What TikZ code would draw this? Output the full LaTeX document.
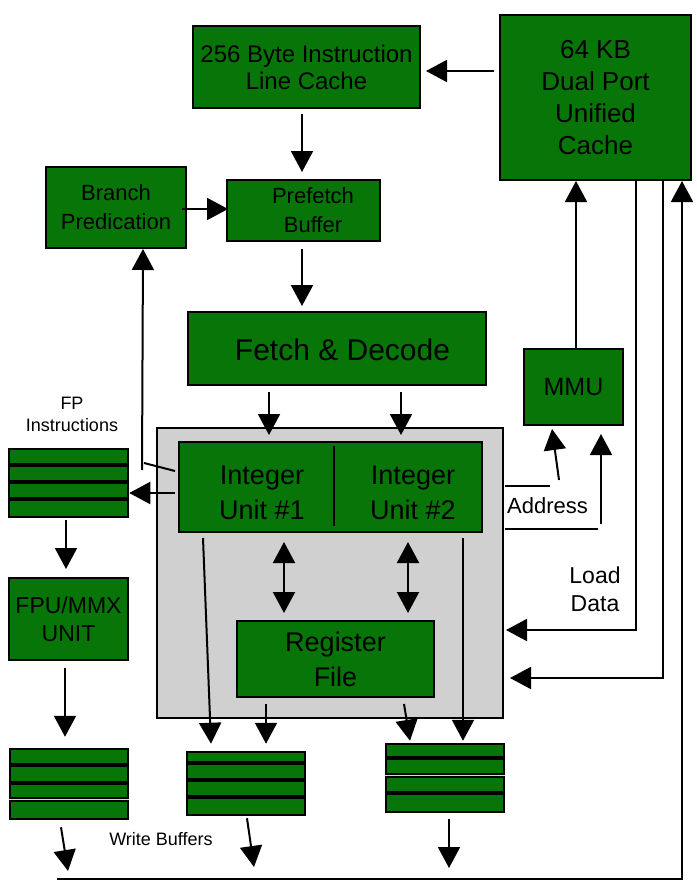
\documentclass[tikz,border=0pt]{standalone}
\usepackage{fontspec}
\setmainfont{Liberation Sans}
\usetikzlibrary{arrows.meta,calc}
\definecolor{boxgreen}{RGB}{7,117,7}
\definecolor{panelgray}{RGB}{208,208,208}
\newcommand\bufsep[2]{\draw[line width=3.5pt] ($(#1.north west)+(0,#2)$) -- ($(#1.north east)+(0,#2)$);}
\newcommand\bufgap[2]{\draw[line width=5pt] ($(#1.north west)+(0,#2)$) -- ($(#1.north east)+(0,#2)$);
  \draw[line width=0.9pt,black!15] ($(#1.north west)+(0,#2)$) -- ($(#1.north east)+(0,#2)$);}
\begin{document}
\begin{tikzpicture}[x=1pt,y=-1pt,
  box/.style={draw=black, line width=2pt, fill=boxgreen, inner sep=0pt, align=center},
  bufbox/.style={draw=black, line width=2.5pt, fill=boxgreen, inner sep=0pt},
  arr/.style={line width=2pt, -{Triangle[length=21pt,width=22pt]}},
  darr/.style={line width=2pt, {Triangle[length=21pt,width=22pt]}-{Triangle[length=21pt,width=22pt]}},
  plain/.style={line width=2pt},
  lbl/.style={inner sep=0pt, align=center},
  fA/.style={font=\fontsize{24pt}{27pt}\selectfont},
  fB/.style={font=\fontsize{26pt}{31.7pt}\selectfont},
  fC/.style={font=\fontsize{22pt}{29pt}\selectfont},
  fD/.style={font=\fontsize{30pt}{34pt}\selectfont},
  fE/.style={font=\fontsize{27pt}{35pt}\selectfont},
  fF/.style={font=\fontsize{23pt}{28pt}\selectfont},
  fG/.style={font=\fontsize{18pt}{22pt}\selectfont},
]
\useasboundingbox (0,0) rectangle (696,888);

% boxes
\node[box, fA, minimum width=227pt, minimum height=82pt] (c256) at (306.5,67) {256 Byte Instruction\\Line Cache};
\node[box, fB, minimum width=191pt, minimum height=165pt] (ucache) at (595.5,97.5) {64 KB\\Dual Port\\Unified\\Cache};
\node[box, minimum width=153pt, minimum height=61pt] (pref) at (303.5,210.5) {};
\node[lbl, fC] (preft) at (313,210) {Prefetch\\Buffer};
\node[box, fC, minimum width=140pt, minimum height=81pt] (branch) at (116,207.5) {Branch\\Predication};
\node[box, minimum width=298pt, minimum height=73pt] (fetch) at (337,348.5) {};
\node[lbl, fD] (fetcht) at (342.5,350) {Fetch \& Decode};
\node[box, font=\fontsize{25pt}{30pt}\selectfont, minimum width=99pt, minimum height=76pt] (mmu) at (573.5,387) {MMU};
\node[draw, line width=2pt, fill=panelgray, minimum width=346pt, minimum height=290pt, inner sep=0pt] (gray) at (330,573) {};
\node[box, minimum width=303pt, minimum height=90pt] (intu) at (330.5,487) {};
\node[lbl, fE] (iu1) at (262,493) {Integer\\Unit \#1};
\node[lbl, fE] (iu2) at (413,493) {Integer\\Unit \#2};
\draw[plain] ($(intu.north)+(3.5,5)$) -- ($(intu.south)+(3.5,-7)$);
\node[box, fE, minimum width=197pt, minimum height=76pt] (regf) at (335.5,659) {Register\\File};
\node[bufbox, minimum width=119pt, minimum height=68pt] (fpbuf) at (68.5,483) {};
\node[box, fF, minimum width=119pt, minimum height=82pt] (fpu) at (68.5,619) {FPU/MMX\\UNIT};
\node[bufbox, minimum width=118pt, minimum height=70pt] (wb1) at (69,784) {};
\node[bufbox, minimum width=118pt, minimum height=63pt] (wb2) at (246,783.5) {};
\node[bufbox, minimum width=118pt, minimum height=68pt] (wb3) at (445,778) {};

% buffer stripes
\bufsep{fpbuf}{17}\bufsep{fpbuf}{34}\bufsep{fpbuf}{51}
\bufsep{wb1}{17}\bufsep{wb1}{35}\bufgap{wb1}{52}
\bufsep{wb2}{12}\bufsep{wb2}{29}\bufsep{wb2}{46}
\bufsep{wb3}{15}\bufgap{wb3}{33}\bufsep{wb3}{50}

% labels
\node[lbl, fG] (fplabel) at (72,414.5) {FP\\Instructions};
\node[lbl, fC, anchor=base west] (addr) at (507,513) {Address};
\node[lbl, fF] (ldlabel) at (595,589) {Load\\Data};
\node[lbl, fG, anchor=base] (wblabel) at (161,845) {Write Buffers};

% bus
\coordinate (busL) at (57,879);
\coordinate (busR) at (682,879);

% connectors
\draw[arr] ($(ucache.west)+(-5,-26.5)$) -- ($(c256.east)+(5,4)$);
\draw[arr] ($(c256.south)+(-4.5,5)$) -- ($(pref.north)+(-1.5,-7)$);
\draw[arr] ($(branch.east)+(-5,1.5)$) -- ($(pref.west)+(2,-1.5)$);
\draw[arr] ($(pref.south)+(-1.5,7)$) -- ($(fetch.north)+(-35,-5)$);
\draw[arr] ($(fetch.south)+(-68,6)$) -- ($(intu.north)+(-61.5,-6)$);
\draw[arr] ($(fetch.south)+(64,6)$) -- ($(intu.north)+(70.5,-6)$);
\draw[darr] ($(intu.south)+(-46.5,9)$) -- ($(regf.north)+(-51.5,-7)$);
\draw[darr] ($(intu.south)+(77.5,9)$) -- ($(regf.north)+(72.5,-7)$);
\draw[arr] ($(intu.south)+(-127.5,5)$) -- ($(wb2.north)+(-35,-7)$);
\draw[arr] ($(intu.south)+(132.5,5)$) -- ($(wb3.north)+(18,-2)$);
\draw[arr] ($(regf.south)+(-69.5,6)$) -- ($(wb2.north)+(20,-7)$);
\draw[arr] ($(regf.south)+(68.5,6)$) -- ($(wb3.north)+(-35,-2)$);
\draw[plain] ($(intu.west)+(-3,-16)$) -- ($(intu.west)+(-34,-24)$);
\draw[arr] ($(intu.west)+(-36,-17)$) -- ($(branch.south)+(27,0)$);
\draw[arr] ($(intu.west)+(-3,6)$) -- ($(fpbuf.east)+(0,10)$);
\draw[arr] ($(fpbuf.south)+(-2.5,2)$) -- ($(fpu.north)+(-2.5,-8)$);
\draw[arr] ($(fpu.south)+(-3.5,7)$) -- ($(wb1.north)+(-4,-11)$);
\draw[arr] ($(wb1.south)+(-8,7)$) -- ($(busL)+(11,-8)$);
\draw[arr] ($(wb2.south)+(1,2)$) -- ($(busL)+(197,-12)$);
\draw[arr] ($(wb3.south)+(4,6)$) -- ($(busL)+(392,-11)$);
\draw[arr] (busL) -- (busR) -- (busR |- ucache.south);
\draw[arr] ($(ucache.south)+(40.5,0)$) |- ($(gray.east)+(2,57)$);
\draw[arr] ($(ucache.south)+(67.5,0)$) |- ($(gray.east)+(6,105)$);
\draw[arr] ($(mmu.north)+(2.5,0)$) -- ($(ucache.south)+(-19.5,0)$);
\draw[plain] ($(gray.east)+(1,-87)$) -- ($(gray.east)+(46,-87)$);
\draw[arr] ($(mmu.south)+(-14.5,54)$) -- ($(mmu.south)+(-21.5,3)$);
\draw[plain] ($(gray.east)+(1,-44)$) -- ($(gray.east)+(94,-44)$);
\draw[arr] ($(mmu.south)+(27.5,98)$) -- ($(mmu.south)+(27.5,8)$);
\end{tikzpicture}
\end{document}
